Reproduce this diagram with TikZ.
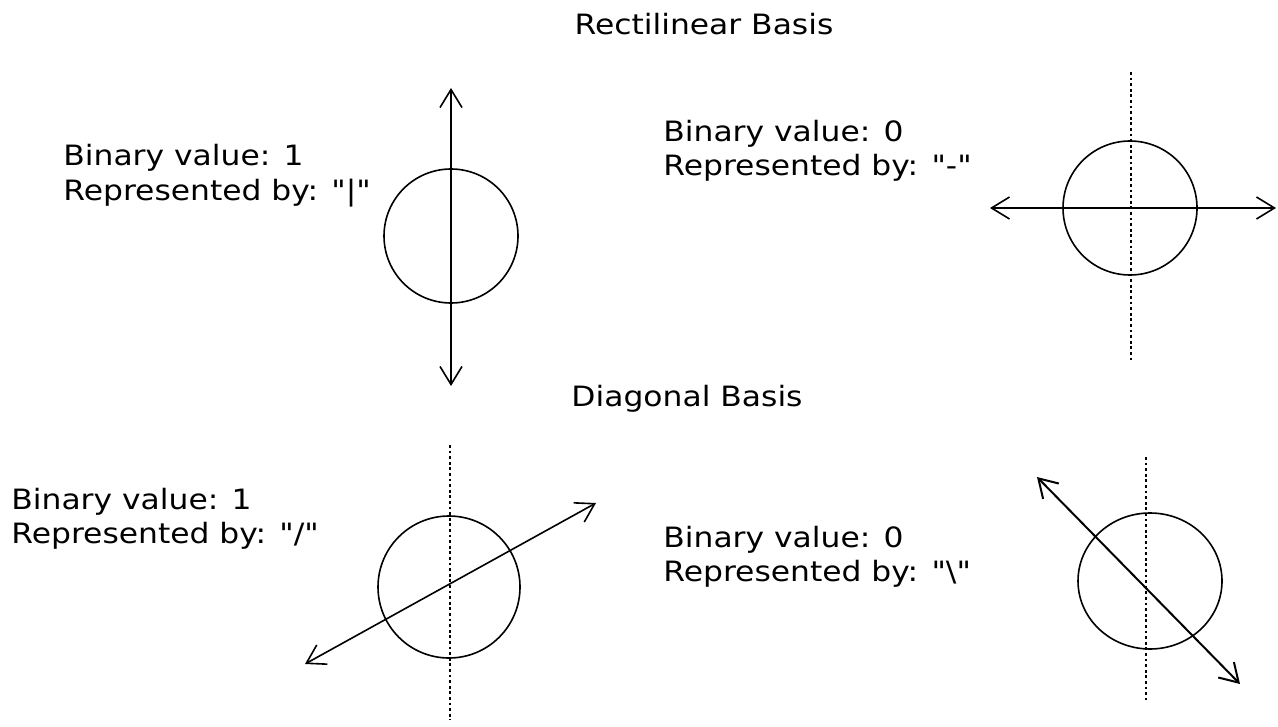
\documentclass[tikz,border=0pt]{standalone}
\usepackage{fontspec}
\setmainfont{DejaVu Sans}[Ligatures=TeXOff, FakeStretch=1.12]
\usetikzlibrary{arrows.meta, shapes.geometric}
\begin{document}
\begin{tikzpicture}[
    x=0.5pt, y=-0.5pt,
    label/.style={font=\fontsize{14}{17}\selectfont, inner sep=0pt, anchor=base west},
    title/.style={font=\fontsize{14}{17}\selectfont, inner sep=0pt, anchor=base},
    photon/.style={draw, line width=0.8pt, minimum size=67pt, inner sep=0pt},
    pol/.style={<->, line width=0.8pt, >={Straight Barb[length=9pt, width=11pt]}},
    axis/.style={line width=0.8pt, dash pattern=on 1.4pt off 1.4pt}
]
\useasboundingbox (0,0) rectangle (1278,727);

% Rectilinear basis
\node[title] (rect) at (704, 35) {Rectilinear Basis};
\node[label] (t1a) at (63, 166) {Binary value: 1};
\node[label] (t1b) at (63, 200) {Represented by: "|"};
\node[photon, circle] (c1) at (451, 236) {};
\coordinate (v1a) at (451, 88);
\coordinate (v1b) at (451, 386);
\draw[pol] (v1a) -- (v1b);

\node[label] (t2a) at (663, 142) {Binary value: 0};
\node[label] (t2b) at (663, 176) {Represented by: "-"};
\node[photon, circle] (c2) at (1130, 208) {};
\coordinate (d2a) at (1131, 72);
\coordinate (d2b) at (1131, 360);
\draw[axis] (d2a) -- (d2b);
\coordinate (h2a) at (990, 208);
\coordinate (h2b) at (1276, 208);
\draw[pol] (h2a) -- (h2b);

% Diagonal basis
\node[title] (diag) at (687, 406) {Diagonal Basis};
\node[label] (t3a) at (11, 509) {Binary value: 1};
\node[label] (t3b) at (11, 543) {Represented by: "/"};
\node[photon, circle, minimum size=71pt] (c3) at (449, 587) {};
\coordinate (d3a) at (450, 445);
\coordinate (d3b) at (450, 720);
\draw[axis] (d3a) -- (d3b);
\coordinate (s3a) at (305, 664);
\coordinate (s3b) at (596, 503);
\draw[pol] (s3a) -- (s3b);

\node[label] (t4a) at (663, 547) {Binary value: 0};
\node[label] (t4b) at (663, 581) {Represented by: "\textbackslash"};
\node[photon, ellipse, minimum width=72pt, minimum height=68pt] (c4) at (1150, 581) {};
\coordinate (d4a) at (1146, 457);
\coordinate (d4b) at (1146, 700);
\draw[axis] (d4a) -- (d4b);
\coordinate (s4a) at (1037, 477);
\coordinate (s4b) at (1240, 684);
\draw[pol, line width=1pt] (s4a) -- (s4b);
\end{tikzpicture}
\end{document}
